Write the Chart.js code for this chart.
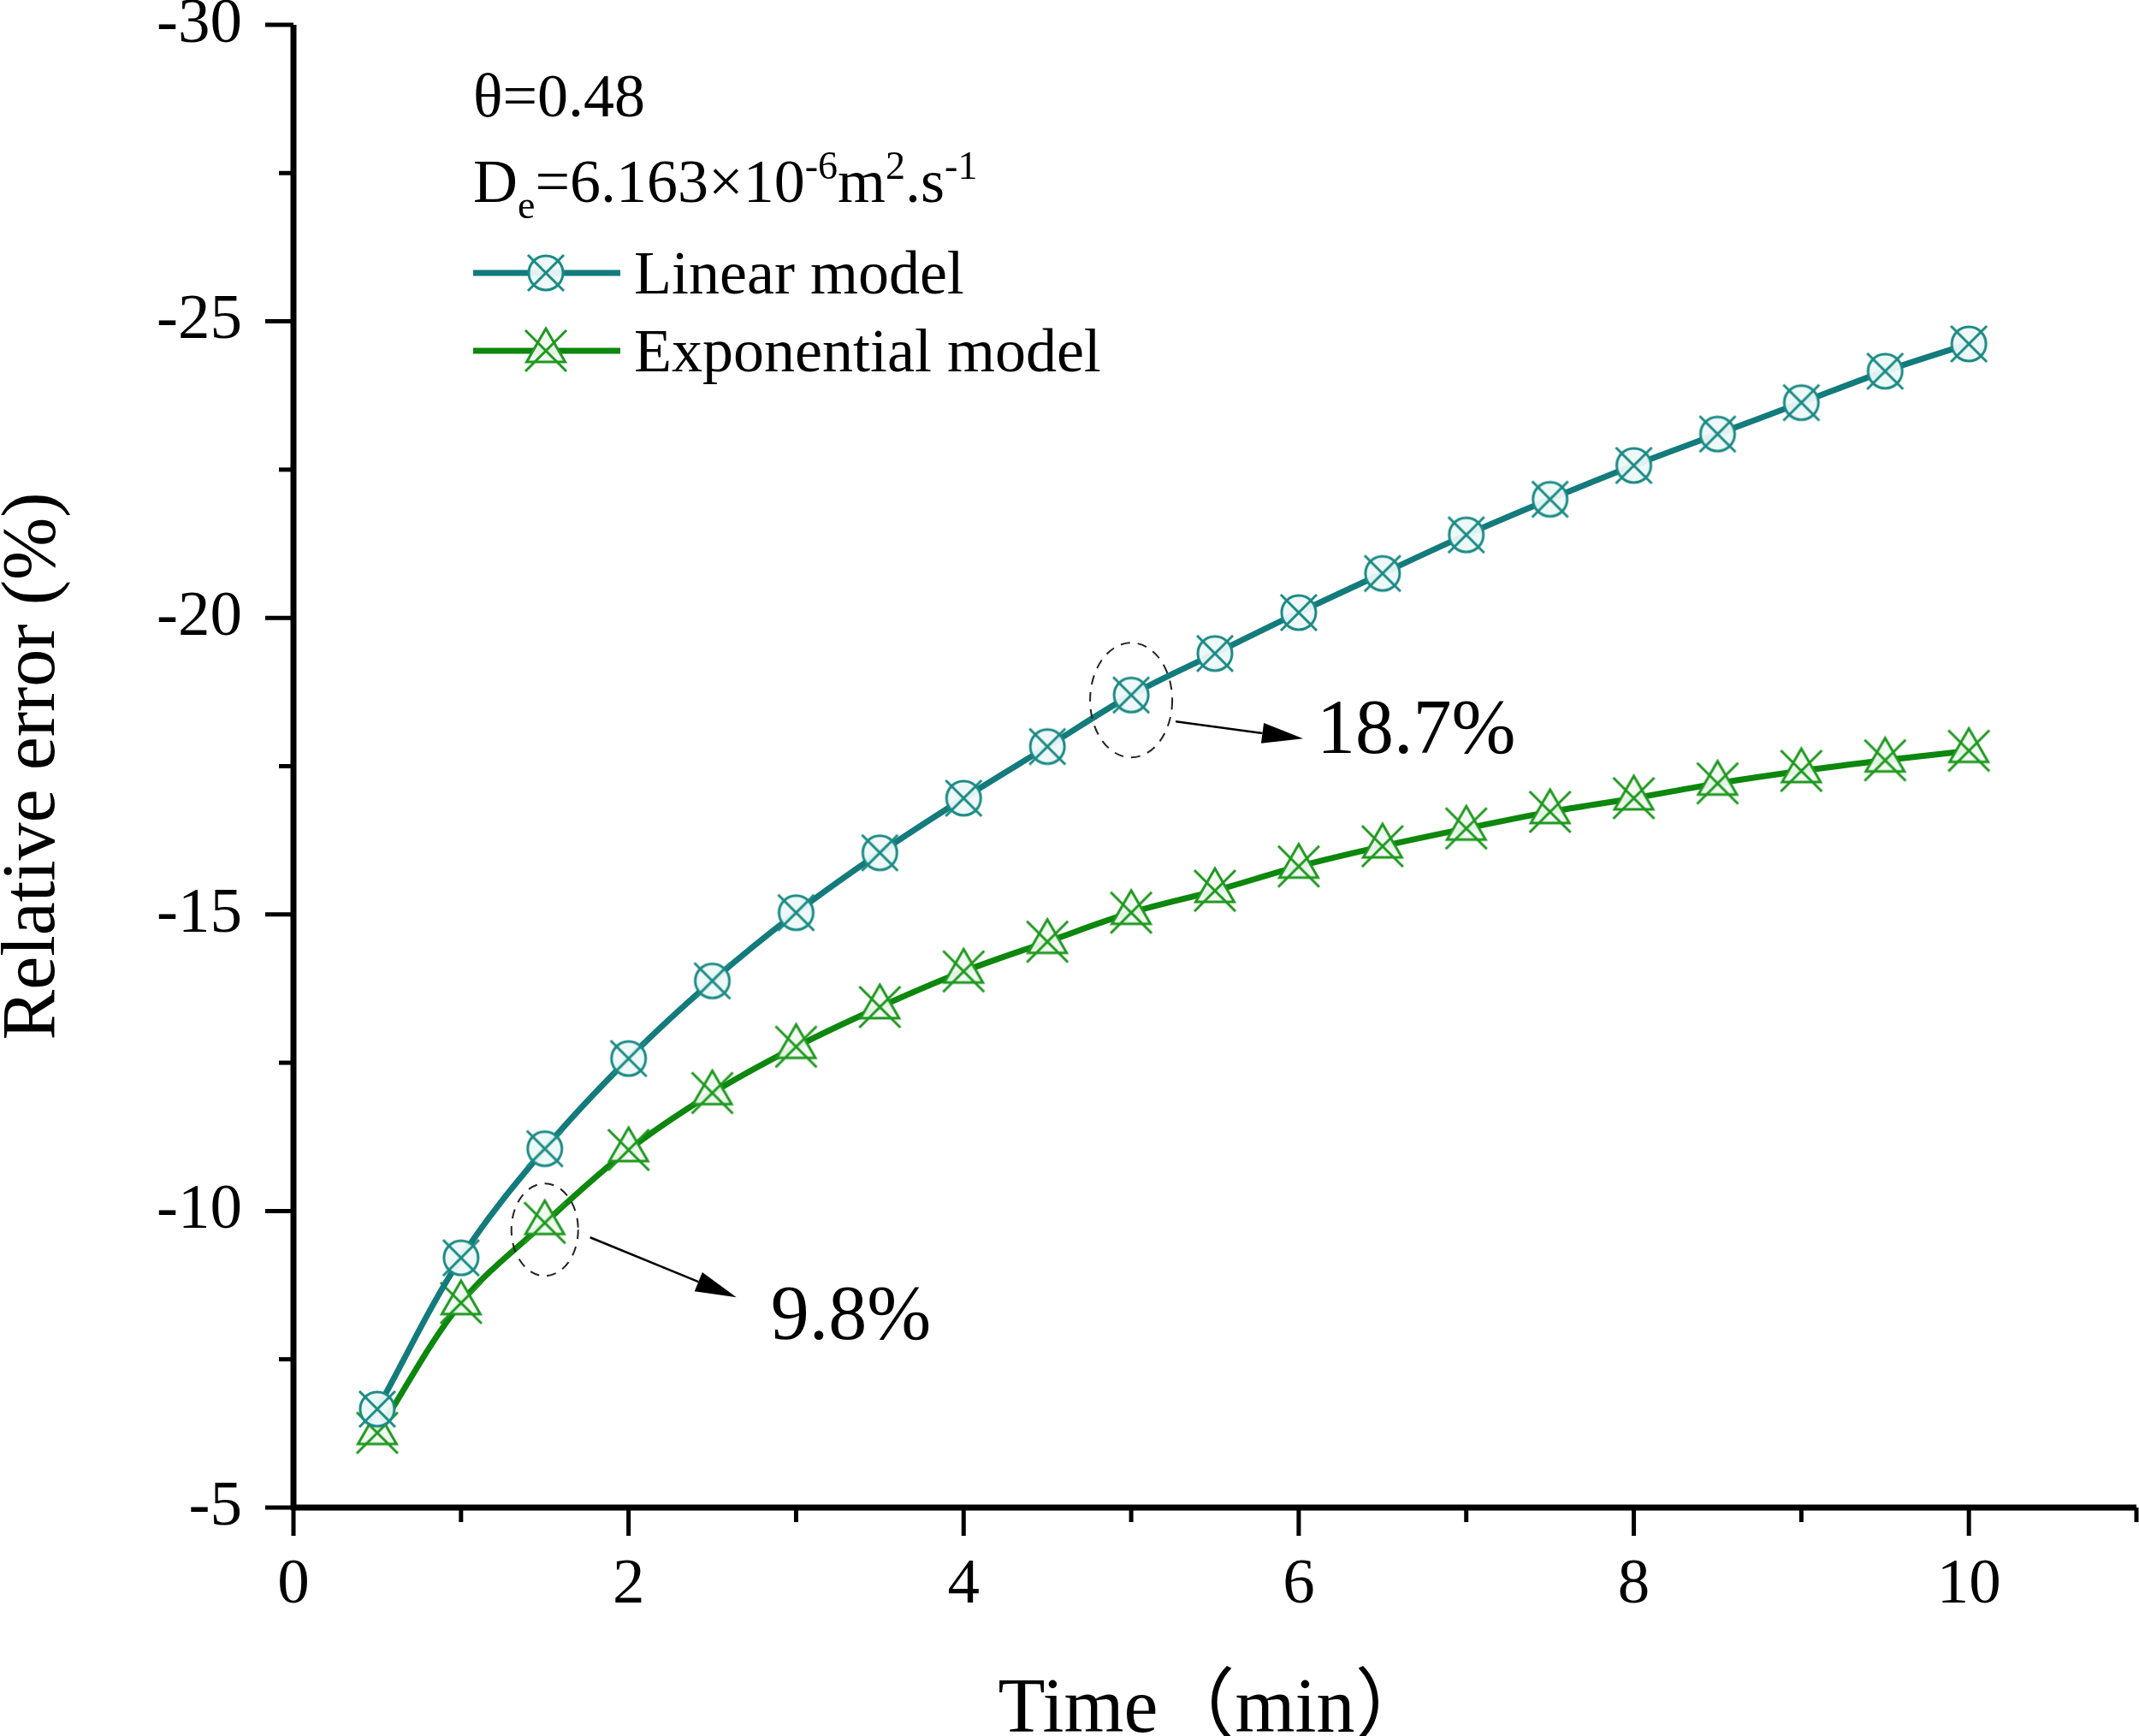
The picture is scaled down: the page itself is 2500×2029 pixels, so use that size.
<!DOCTYPE html>
<html>
<head>
<meta charset="utf-8">
<title>Relative error</title>
<script src="https://cdn.jsdelivr.net/npm/chart.js@4.4.1/dist/chart.umd.min.js"></script>
<style>
    html, body { margin: 0; padding: 0; background: #ffffff; }
    #wrap { width: 2500px; height: 2029px; }
</style>
</head>
<body>
<div id="wrap"><canvas id="errorChart" width="2500" height="2029"></canvas></div>
<script>
// values
const times = [0.5, 1, 1.5, 2, 2.5, 3, 3.5, 4, 4.5, 5, 5.5, 6, 6.5, 7, 7.5, 8, 8.5, 9, 9.5, 10];
const linearError = [-6.66, -9.21, -11.05, -12.57, -13.88, -15.03, -16.04, -16.96, -17.83, -18.7,
    -19.40, -20.09, -20.75, -21.40, -22.00, -22.57, -23.10, -23.63, -24.16, -24.62];
const expError = [-6.26, -8.45, -9.8, -11.03, -11.99, -12.77, -13.44, -14.04, -14.54, -15.03,
    -15.40, -15.81, -16.15, -16.45, -16.73, -16.96, -17.21, -17.42, -17.60, -17.76];

const xMajorTicks = [0, 2, 4, 6, 8, 10];
const xMinorTicks = [1, 3, 5, 7, 9, 11];
const yMajorTicks = [-30, -25, -20, -15, -10, -5];
const yMinorTicks = [-27.5, -22.5, -17.5, -12.5, -7.5];

const xTitle = 'Time（min）';
const yTitle = 'Relative error (%)';

// callouts: time, which series, label
const noteTimes = [5, 1.5];
const noteSeries = [0, 1];
const noteLabels = ['18.7%', '9.8%'];

const serif = '"Liberation Serif", "Times New Roman", "Noto Sans CJK SC", serif';
const tealLine = '#137b7b';
const greenLine = '#0d870d';

// Origin style symbols: circle with X, triangle with X
function makeMarker(kind, stroke, fill) {
    const c = document.createElement('canvas');
    c.width = 62;
    c.height = 62;
    const g = c.getContext('2d');
    g.translate(31, 31);
    g.lineWidth = 3;
    g.strokeStyle = stroke;
    g.fillStyle = fill;
    g.beginPath();
    let a;
    if (kind === 'circle') {
        g.arc(0, 0, 20, 0, Math.PI * 2);
        a = 21;
    } else {
        const r = 26;
        const h = r * Math.sin(Math.PI / 3);
        g.moveTo(0, -r);
        g.lineTo(h, r / 2);
        g.lineTo(-h, r / 2);
        g.closePath();
        a = 24;
    }
    g.fill();
    g.stroke();
    g.beginPath();
    g.moveTo(-a, -a); g.lineTo(a, a);
    g.moveTo(a, -a); g.lineTo(-a, a);
    g.stroke();
    return c;
}

const linMarker = makeMarker('circle', '#1b8a84', 'rgba(236,248,248,0.95)');
const expMarker = makeMarker('triangle', '#1f981f', 'rgba(240,250,240,0.95)');

function seg(ctx, x1, y1, x2, y2) {
    ctx.beginPath();
    ctx.moveTo(x1, y1);
    ctx.lineTo(x2, y2);
    ctx.stroke();
}

function richText(ctx, parts, x, y, size) {
    parts.forEach(([txt, mode]) => {
        const s = mode ? size * 0.64 : size;
        ctx.font = s + 'px ' + serif;
        let dy = 0;
        if (mode === 'sub') dy = size * 0.26;
        if (mode === 'sup') dy = -size * 0.38;
        ctx.fillText(txt, x, y + dy);
        x += ctx.measureText(txt).width;
    });
}

function arrow(ctx, x1, y1, x2, y2) {
    const ang = Math.atan2(y2 - y1, x2 - x1);
    const len = 48, half = 12;
    const bx = x2 - len * Math.cos(ang), by = y2 - len * Math.sin(ang);
    ctx.lineWidth = 2.5;
    seg(ctx, x1, y1, bx, by);
    ctx.beginPath();
    ctx.moveTo(x2, y2);
    ctx.lineTo(bx + half * Math.sin(ang), by - half * Math.cos(ang));
    ctx.lineTo(bx - half * Math.sin(ang), by + half * Math.cos(ang));
    ctx.closePath();
    ctx.fill();
}

const decor = {
    id: 'decor',
    afterDraw(chart) {
        const ctx = chart.ctx;
        const xs = chart.scales.x, ys = chart.scales.y, area = chart.chartArea;
        ctx.save();
        ctx.strokeStyle = '#000';
        ctx.fillStyle = '#000';
        ctx.lineCap = 'butt';

        // axes
        ctx.lineWidth = 7;
        seg(ctx, area.left, area.top, area.left, area.bottom + 3);
        seg(ctx, area.left - 3, area.bottom, area.right, area.bottom);

        // ticks, outward
        ctx.lineWidth = 5;
        xMajorTicks.forEach(v => { const p = xs.getPixelForValue(v); seg(ctx, p, area.bottom, p, area.bottom + 33); });
        xMinorTicks.forEach(v => { const p = xs.getPixelForValue(v); seg(ctx, p, area.bottom, p, area.bottom + 17); });
        yMajorTicks.forEach(v => { const p = ys.getPixelForValue(v); seg(ctx, area.left - 33, p, area.left, p); });
        yMinorTicks.forEach(v => { const p = ys.getPixelForValue(v); seg(ctx, area.left - 17, p, area.left, p); });

        // x axis title, sitting right on the bottom edge as in the figure
        ctx.textAlign = 'center';
        ctx.textBaseline = 'alphabetic';
        ctx.font = '90px ' + serif;
        ctx.fillText(xTitle, 1420, 2024);

        // parameters
        ctx.textAlign = 'left';
        ctx.font = '72px ' + serif;
        ctx.fillText('θ=0.48', 553, 136);
        richText(ctx, [['D'], ['e', 'sub'], ['=6.163×10'], ['-6', 'sup'], ['m'], ['2', 'sup'], ['.s'], ['-1', 'sup']], 553, 236, 72);

        // legend
        const rows = [319, 410];
        chart.data.datasets.forEach((ds, i) => {
            const y = rows[i];
            ctx.strokeStyle = ds.borderColor;
            ctx.lineWidth = 7;
            seg(ctx, 553, y, 725, y);
            ctx.drawImage(ds.pointStyle, 638 - ds.pointStyle.width / 2, y - ds.pointStyle.height / 2);
            ctx.fillStyle = '#000';
            ctx.font = '72px ' + serif;
            ctx.fillText(ds.label, 741, y + 24);
        });

        // callouts
        const ell = [[48, 67, 6], [39, 54, 8]];
        const arr = [[52, 31, 201, 51], [53, 17, 224, 87]];
        const txt = [[217, 44], [264, 112]];
        noteTimes.forEach((t, i) => {
            const series = noteSeries[i] === 0 ? linearError : expError;
            const px = xs.getPixelForValue(t);
            const py = ys.getPixelForValue(series[times.indexOf(t)]);
            ctx.strokeStyle = '#222';
            ctx.fillStyle = '#000';
            ctx.lineWidth = 2;
            ctx.setLineDash([11, 9]);
            ctx.beginPath();
            ctx.ellipse(px, py + ell[i][2], ell[i][0], ell[i][1], 0, 0, Math.PI * 2);
            ctx.stroke();
            ctx.setLineDash([]);
            ctx.strokeStyle = '#000';
            arrow(ctx, px + arr[i][0], py + arr[i][1], px + arr[i][2], py + arr[i][3]);
            ctx.font = '90px ' + serif;
            ctx.textBaseline = 'middle';
            ctx.fillText(noteLabels[i], px + txt[i][0], py + txt[i][1]);
            ctx.textBaseline = 'alphabetic';
        });
        ctx.restore();
    }
};

const ctx = document.getElementById('errorChart').getContext('2d');

new Chart(ctx, {
    type: 'line',
    data: {
        datasets: [
            {
                label: 'Linear model',
                data: times.map((t, i) => ({ x: t, y: linearError[i] })),
                borderColor: tealLine,
                borderWidth: 7,
                pointStyle: linMarker,
                pointRadius: 20,
                tension: 0.35,
                fill: false
            },
            {
                label: 'Exponential model',
                data: times.map((t, i) => ({ x: t, y: expError[i] })),
                borderColor: greenLine,
                borderWidth: 7,
                pointStyle: expMarker,
                pointRadius: 20,
                tension: 0.35,
                fill: false
            }
        ]
    },
    options: {
        responsive: false,
        animation: false,
        devicePixelRatio: 1,
        layout: { autoPadding: false, padding: { top: 29, right: 3, left: 0, bottom: 0 } },
        plugins: {
            legend: { display: false },
            tooltip: { enabled: false }
        },
        scales: {
            x: {
                type: 'linear',
                min: 0,
                max: 11,
                // ticks are drawn by the plugin; tickLength only spaces the labels
                grid: { display: false, drawTicks: true, tickLength: 46 },
                border: { display: false },
                afterBuildTicks: s => { s.ticks = xMajorTicks.map(v => ({ value: v })); },
                afterFit: s => { s.height = 267; },
                ticks: {
                    font: { family: serif, size: 75 },
                    color: '#000',
                    padding: 0,
                    maxRotation: 0,
                    autoSkip: false
                },
                title: { display: false, text: xTitle }
            },
            y: {
                type: 'linear',
                min: -30,
                max: -5,
                reverse: true,
                grid: { display: false, drawTicks: true, tickLength: 60 },
                border: { display: false },
                afterBuildTicks: s => { s.ticks = yMajorTicks.map(v => ({ value: v })); },
                afterFit: s => { s.width = 343; },
                ticks: {
                    font: { family: serif, size: 75, lineHeight: 0.6 },
                    color: '#000',
                    padding: 0
                },
                title: {
                    display: true,
                    text: yTitle,
                    color: '#000',
                    font: { family: serif, size: 88, lineHeight: 1 },
                    padding: { top: -4, bottom: 0 }
                }
            }
        }
    },
    plugins: [decor]
});
</script>
</body>
</html>
